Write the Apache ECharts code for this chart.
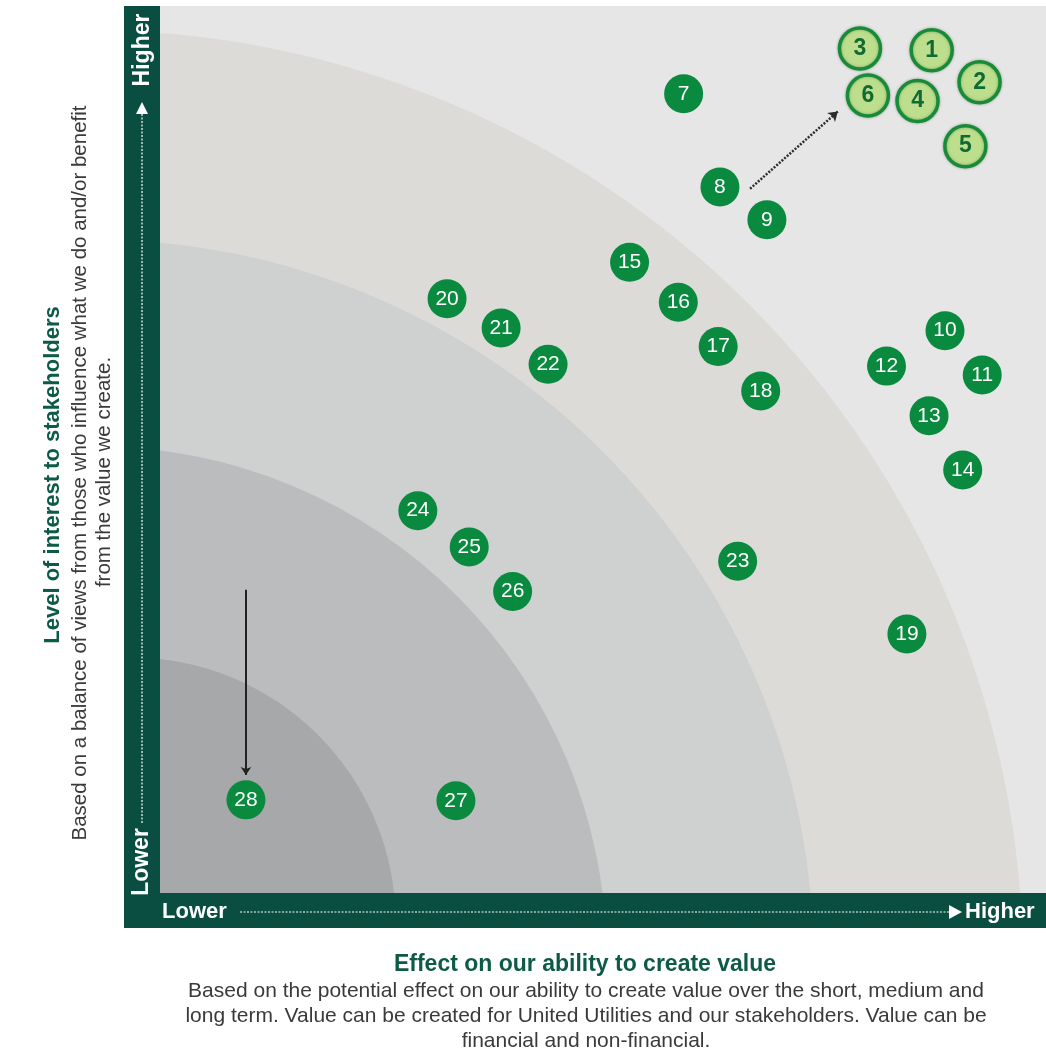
<!DOCTYPE html>
<html>
<head>
<meta charset="utf-8">
<script src="https://cdn.jsdelivr.net/npm/echarts@6/dist/echarts.min.js"></script>
<style>
html,body{margin:0;padding:0;background:#fff;}
#chart{width:1046px;height:1055px;}
</style>
</head>
<body>
<div id="chart"></div>
<script>
// ---- data ----
const riskIds = ['1','2','3','4','5','6','7','8','9','10','11','12','13','14','15','16','17','18','19','20','21','22','23','24','25','26','27','28'];
const effectValues = [87.1, 92.5, 79.0, 85.5, 90.9, 79.9, 59.1, 63.2, 68.5, 88.6, 92.8, 82.0, 86.8, 90.6, 53.0, 58.5, 63.0, 67.8, 84.3, 32.4, 38.5, 43.8, 65.2, 29.1, 34.9, 39.8, 33.4, 9.7];
const interestValues = [95.0, 91.4, 95.2, 89.3, 84.2, 89.9, 90.1, 79.6, 75.9, 63.4, 58.4, 59.4, 53.8, 47.7, 71.1, 66.6, 61.6, 56.6, 29.2, 67.0, 63.7, 59.6, 37.4, 43.1, 39.0, 34.0, 10.4, 10.5];
const principalRisks = ['1','2','3','4','5','6'];

// concentric zones (centre offset beyond the origin, radius) in axis units
const zoneOffset = [8.2, 7.8, 7.2, 3.3];
const zoneRadius = [105.6, 81.6, 57.6, 29.9];

// movement arrows [from, to]
const arrowFrom = [[66.6, 79.4], [9.7, 34.2]];
const arrowTo = [[76.5, 88.1], [9.7, 13.3]];

const xTickLabels = ['Lower', 'Higher'];
const yTickLabels = ['Lower', 'Higher'];

// ---- build ----
const zoneColors = ['#dcdbd8', '#cfd0d0', '#bbbcbe', '#a6a8a9'];
const zoneData = zoneRadius.map((r, i) => [-zoneOffset[i], -zoneOffset[i], r, i]);

const darkPts = [], lightPts = [];
riskIds.forEach((id, i) => {
  const p = {name: id, value: [effectValues[i], interestValues[i]]};
  (principalRisks.includes(id) ? lightPts : darkPts).push(p);
});

const arrowData = arrowFrom.map((f, i) => ({coords: [f, arrowTo[i]]}));

const chart = echarts.init(document.getElementById('chart'), null, {renderer: 'canvas'});
const GREEN_BAR = '#0a4e41';
const TITLE_GREEN = '#0d5a46';
const TXT = '#3a3a3a';
const sansB = 'Liberation Sans';

const option = {
  animation: false,
  backgroundColor: '#ffffff',
  grid: {left: 160, top: 6, right: 0, bottom: 162, show: true, backgroundColor: '#e6e6e6', borderWidth: 0},
  xAxis: {type: 'value', min: 0, max: 100, show: false},
  yAxis: {type: 'value', min: 0, max: 100, show: false},
  series: [
    {
      type: 'custom',
      z: 1,
      clip: true,
      silent: true,
      data: zoneData,
      renderItem: function (params, api) {
        const c = api.coord([api.value(0), api.value(1)]);
        const r = api.size([api.value(2), 0])[0];
        const cs = params.coordSys;
        return {
          type: 'circle',
          shape: {cx: c[0], cy: c[1], r: r},
          style: {fill: zoneColors[api.value(3)]},
          clipPath: {type: 'rect', shape: {x: cs.x, y: cs.y, width: cs.width, height: cs.height}}
        };
      }
    },
    {
      type: 'lines',
      coordinateSystem: 'cartesian2d',
      z: 3,
      symbol: ['none', 'arrow'],
      symbolSize: 9,
      data: [arrowData[0]],
      lineStyle: {color: '#2b2b2b', width: 2.5, type: [2, 1.5], opacity: 1}
    },
    {
      type: 'lines',
      coordinateSystem: 'cartesian2d',
      z: 3,
      symbol: ['none', 'arrow'],
      symbolSize: 8,
      data: [arrowData[1]],
      lineStyle: {color: '#222222', width: 2, opacity: 1}
    },
    {
      type: 'scatter',
      z: 4,
      symbol: 'circle',
      symbolSize: 39,
      data: darkPts,
      itemStyle: {color: '#0a8a3f', opacity: 1},
      label: {show: true, position: 'inside', formatter: '{b}', color: '#ffffff', fontFamily: sansB, fontSize: 21, fontWeight: 500}
    },
    {
      type: 'scatter',
      z: 4,
      symbol: 'circle',
      symbolSize: 41,
      data: lightPts,
      itemStyle: {color: '#bcde8d', borderColor: '#178b37', borderWidth: 3.5, opacity: 1, shadowBlur: 3, shadowColor: 'rgba(0,60,20,0.35)'},
      label: {show: true, position: 'inside', formatter: '{b}', color: '#0f6b33', fontFamily: sansB, fontSize: 23, fontWeight: 'bold'}
    }
  ],
  graphic: [
    // axis bars
    {type: 'rect', shape: {x: 124, y: 6, width: 36, height: 922}, style: {fill: GREEN_BAR}, z: 10},
    {type: 'rect', shape: {x: 124, y: 893, width: 922, height: 35}, style: {fill: GREEN_BAR}, z: 10},
    // y bar
    {type: 'text', x: 143, y: 50, rotation: Math.PI / 2, z: 11,
      style: {text: yTickLabels[1], fill: '#fff', font: 'bold 23px "Liberation Sans"', align: 'center', verticalAlign: 'middle'}},
    {type: 'polygon', z: 11, shape: {points: [[136, 114], [148, 114], [142, 102]]}, style: {fill: '#fff'}},
    {type: 'line', z: 11, shape: {x1: 142, y1: 114, x2: 142, y2: 823}, style: {stroke: '#fff', lineWidth: 1.2, lineDash: [2, 1.5]}},
    {type: 'text', x: 142, y: 862, rotation: Math.PI / 2, z: 11,
      style: {text: yTickLabels[0], fill: '#fff', font: 'bold 23px "Liberation Sans"', align: 'center', verticalAlign: 'middle'}},
    // x bar
    {type: 'text', x: 162, y: 912, z: 11,
      style: {text: xTickLabels[0], fill: '#fff', font: 'bold 22px "Liberation Sans"', align: 'left', verticalAlign: 'middle'}},
    {type: 'line', z: 11, shape: {x1: 240, y1: 912, x2: 950, y2: 912}, style: {stroke: '#fff', lineWidth: 1.2, lineDash: [2, 1.5]}},
    {type: 'polygon', z: 11, shape: {points: [[949, 905], [949, 919], [962, 912]]}, style: {fill: '#fff'}},
    {type: 'text', x: 965, y: 912, z: 11,
      style: {text: xTickLabels[1], fill: '#fff', font: 'bold 22px "Liberation Sans"', align: 'left', verticalAlign: 'middle'}},
    // y titles
    {type: 'text', x: 53, y: 475, rotation: Math.PI / 2, z: 11,
      style: {text: 'Level of interest to stakeholders', fill: TITLE_GREEN, font: 'bold 22px "Liberation Sans"', align: 'center', verticalAlign: 'middle'}},
    {type: 'text', x: 80, y: 473, rotation: Math.PI / 2, z: 11,
      style: {text: 'Based on a balance of views from those who influence what we do and/or benefit', fill: TXT, font: '20.5px "Liberation Sans"', align: 'center', verticalAlign: 'middle'}},
    {type: 'text', x: 104, y: 472, rotation: Math.PI / 2, z: 11,
      style: {text: 'from the value we create.', fill: TXT, font: '20.5px "Liberation Sans"', align: 'center', verticalAlign: 'middle'}},
    // x titles
    {type: 'text', x: 585, y: 965, z: 11,
      style: {text: 'Effect on our ability to create value', fill: TITLE_GREEN, font: 'bold 23px "Liberation Sans"', align: 'center', verticalAlign: 'middle'}},
    {type: 'text', x: 586, y: 991, z: 11,
      style: {text: 'Based on the potential effect on our ability to create value over the short, medium and', fill: TXT, font: '21px "Liberation Sans"', align: 'center', verticalAlign: 'middle'}},
    {type: 'text', x: 586, y: 1016, z: 11,
      style: {text: 'long term. Value can be created for United Utilities and our stakeholders. Value can be', fill: TXT, font: '21px "Liberation Sans"', align: 'center', verticalAlign: 'middle'}},
    {type: 'text', x: 586, y: 1041, z: 11,
      style: {text: 'financial and non-financial.', fill: TXT, font: '21px "Liberation Sans"', align: 'center', verticalAlign: 'middle'}}
  ]
};
chart.setOption(option);
</script>
</body>
</html>
